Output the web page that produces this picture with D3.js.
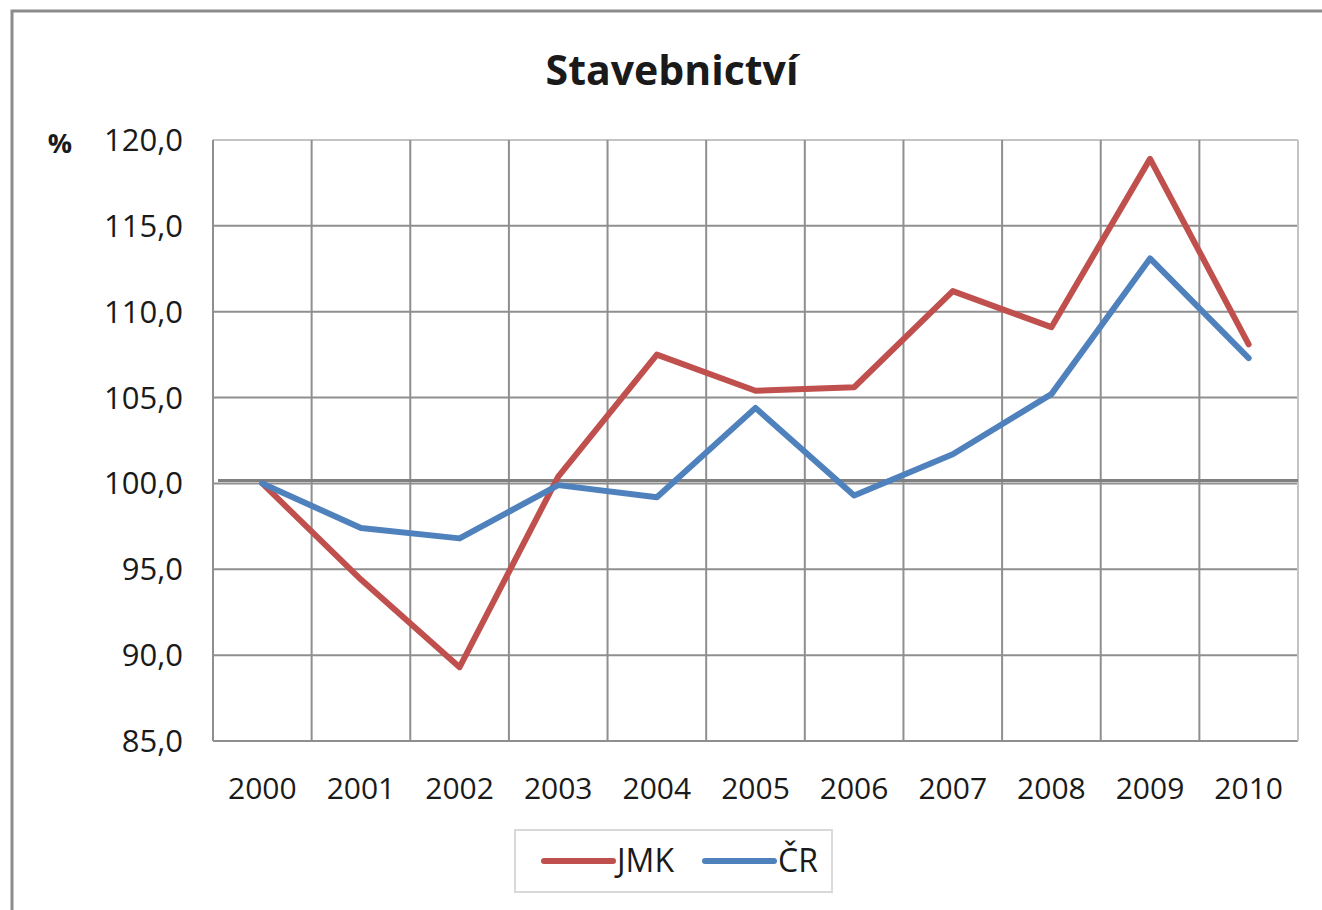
<!DOCTYPE html>
<html>
<head>
<meta charset="utf-8">
<script src="https://cdn.jsdelivr.net/npm/d3@7"></script>
<style>
  body { margin: 0; background: #fff; }
  text { font-family: "Open Sans", "Noto Sans", sans-serif; fill: #1a1a1a; }
</style>
</head>
<body>
<svg id="chart" width="1322" height="910"></svg>
<script>
// data (index, 2000 = 100)
var years = ["2000", "2001", "2002", "2003", "2004", "2005", "2006", "2007", "2008", "2009", "2010"];
var jmk = [100.0, 94.4, 89.3, 100.4, 107.5, 105.4, 105.6, 111.2, 109.1, 118.9, 108.1];
var cr = [100.0, 97.4, 96.8, 99.9, 99.2, 104.4, 99.3, 101.7, 105.2, 113.1, 107.3];
var yTicks = [85, 90, 95, 100, 105, 110, 115, 120];
var seriesNames = ["JMK", "ČR"];
var colors = ["#c0504d", "#4f81bd"];

var svg = d3.select('#chart');

// outer frame (right and bottom fall off the picture)
svg.append('rect')
    .attr('x', 12).attr('y', 11)
    .attr('width', 1330).attr('height', 920)
    .attr('fill', 'none')
    .attr('stroke', '#8c8c8c')
    .attr('stroke-width', 3);

var plotLeft = 213, plotRight = 1298, plotTop = 140, plotBottom = 741;

var x = d3.scaleBand().domain(years).range([plotLeft, plotRight]);
var y = d3.scaleLinear().domain([85, 120]).range([plotBottom, plotTop]);

// title
svg.append('text')
    .attr('x', 672).attr('y', 85)
    .attr('text-anchor', 'middle')
    .style('font-size', '41px')
    .style('font-weight', 'bold')
    .text('Stavebnictví');

// horizontal grid
svg.append('g').selectAll('line')
    .data(yTicks).enter()
    .append('line')
    .attr('x1', plotLeft).attr('x2', plotRight)
    .attr('y1', function(d){ return y(d); })
    .attr('y2', function(d){ return y(d); })
    .attr('stroke', function(d){ return d === 120 ? '#c4c4c4' : '#8f8f8f'; })
    .attr('stroke-width', 2);

// vertical grid at band edges
var edges = years.map(function(d){ return x(d); }).concat([plotRight]);
svg.append('g').selectAll('line')
    .data(edges).enter()
    .append('line')
    .attr('x1', function(d){ return d; })
    .attr('x2', function(d){ return d; })
    .attr('y1', plotTop).attr('y2', plotBottom)
    .attr('stroke', function(d, i){ return i === edges.length - 1 ? '#c4c4c4' : '#8f8f8f'; })
    .attr('stroke-width', 2);

// 100 reference line
svg.append('line')
    .attr('x1', plotLeft + 5).attr('x2', plotRight)
    .attr('y1', y(100.17)).attr('y2', y(100.17))
    .attr('stroke', '#808080')
    .attr('stroke-width', 3);

// y tick labels
svg.append('g').selectAll('text')
    .data(yTicks).enter()
    .append('text')
    .attr('x', 183)
    .attr('y', function(d){ return y(d) + 11; })
    .attr('text-anchor', 'end')
    .style('font-size', '31px')
    .text(function(d){ return d3.format('.1f')(d).replace('.', ','); });

svg.append('text')
    .attr('x', 60).attr('y', 153)
    .attr('text-anchor', 'middle')
    .style('font-size', '27px')
    .style('font-weight', 'bold')
    .text('%');

// x labels
svg.append('g').selectAll('text')
    .data(years).enter()
    .append('text')
    .attr('x', function(d){ return x(d) + x.bandwidth() / 2; })
    .attr('y', 799)
    .attr('text-anchor', 'middle')
    .style('font-size', '30px')
    .text(function(d){ return d; });

// lines
var line = d3.line()
    .x(function(d, i){ return x(years[i]) + x.bandwidth() / 2; })
    .y(function(d){ return y(d); });

[jmk, cr].forEach(function(s, i){
    svg.append('path')
        .datum(s)
        .attr('d', line)
        .attr('fill', 'none')
        .attr('stroke', colors[i])
        .attr('stroke-width', 6)
        .attr('stroke-linejoin', 'round')
        .attr('stroke-linecap', 'round');
});

// legend
svg.append('rect')
    .attr('x', 515).attr('y', 830)
    .attr('width', 317).attr('height', 62)
    .attr('fill', 'none')
    .attr('stroke', '#d9d9d9')
    .attr('stroke-width', 2);

var legendX = [544, 705];
seriesNames.forEach(function(name, i){
    svg.append('line')
        .attr('x1', legendX[i]).attr('x2', legendX[i] + 69)
        .attr('y1', 861).attr('y2', 861)
        .attr('stroke', colors[i])
        .attr('stroke-width', 6)
        .attr('stroke-linecap', 'round');
    svg.append('text')
        .attr('x', legendX[i] + 73).attr('y', 872)
        .style('font-size', '32px')
        .text(name);
});
</script>
</body>
</html>
